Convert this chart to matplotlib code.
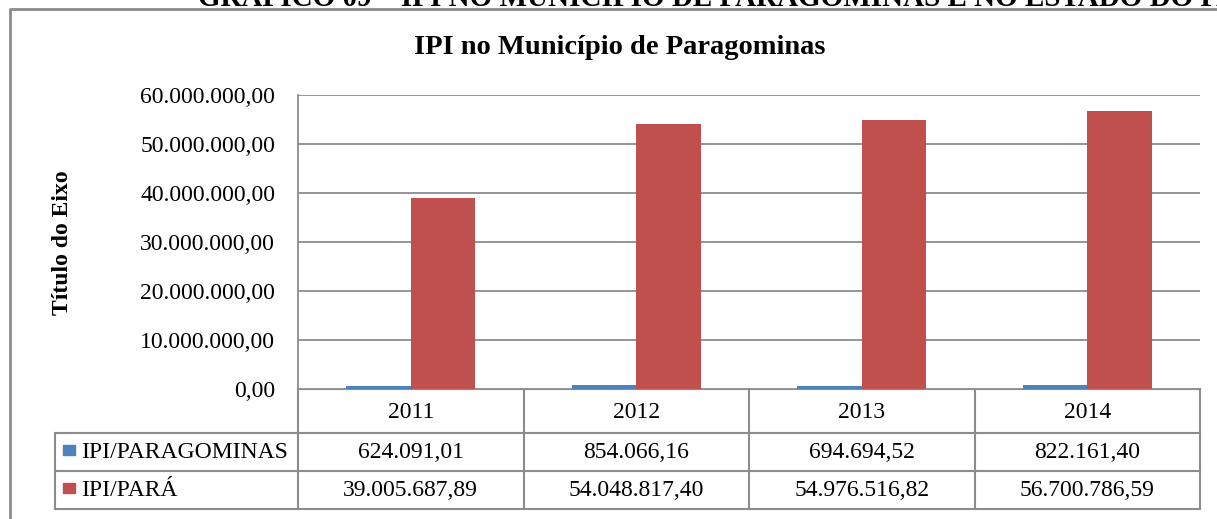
import matplotlib.pyplot as plt
import numpy as np

plt.rcParams['font.family'] = ['Liberation Serif', 'DejaVu Serif']

# data
anos = ['2011', '2012', '2013', '2014']
ipi_paragominas = [624091.01, 854066.16, 694694.52, 822161.40]
ipi_para = [39005687.89, 54048817.40, 54976516.82, 56700786.59]
series_names = ['IPI/PARAGOMINAS', 'IPI/PARÁ']
cores = ['#4F81BD', '#C0504D']


def fmt_br(v):
    s = '{:,.2f}'.format(v)
    return s.replace(',', 'X').replace('.', ',').replace('X', '.')


W, H = 1217, 519
fig = plt.figure(figsize=(W / 100, H / 100), dpi=100)

# overlay in pixel coordinates for frame and table
ov = fig.add_axes([0, 0, 1, 1])
ov.set_xlim(0, W)
ov.set_ylim(H, 0)
ov.axis('off')

grey = '#8c8c8c'
fs = 17
# outer chart frame (partly cut off)
ov.plot([10, 10, W], [H, 9, 9], color=grey, lw=2)
# cut-off figure caption at top
ov.text(198, 6, 'GRÁFICO 09 – IPI NO MUNICÍPIO DE PARAGOMINAS E NO ESTADO DO PARÁ',
        fontsize=21, fontweight='bold', va='baseline', ha='left')
# chart title and axis title
ov.text(620, 48, 'IPI no Município de Paragominas', fontsize=20.5, fontweight='bold',
        ha='center', va='center')
ov.text(62, 243, 'Título do Eixo', fontsize=fs, fontweight='bold', rotation=90,
        ha='center', va='center')

# main axes
x0, x1, y0, y1 = 298, 1200, 95, 389
ax = fig.add_axes([x0 / W, 1 - y1 / H, (x1 - x0) / W, (y1 - y0) / H])
x = np.arange(len(anos))
bw = 0.285
ax.bar(x - bw / 2, ipi_paragominas, bw, color=cores[0], zorder=3)
ax.bar(x + bw / 2, ipi_para, bw, color=cores[1], zorder=3)
ax.set_xlim(-0.5, len(anos) - 0.5)
ax.set_ylim(0, 60000000)
ticks = np.arange(0, 60000001, 10000000)
ax.set_yticks(ticks)
ax.set_yticklabels([fmt_br(t) for t in ticks], fontsize=fs)
ax.set_xticks([])
ax.yaxis.grid(True, color=grey, lw=1.3, zorder=0)
ax.tick_params(axis='y', length=0, pad=16.5)
for s in ['top', 'right', 'bottom']:
    ax.spines[s].set_visible(False)
ax.spines['left'].set_color(grey)
ax.spines['left'].set_linewidth(1.3)

# data table
col_w = (x1 - x0) / len(anos)
rows = [389, 433, 471, 509]
tl = 55
lw = 1.5
ov.plot([x0, x1], [rows[0], rows[0]], color=grey, lw=lw)
for r in rows[1:]:
    ov.plot([tl, x1], [r, r], color=grey, lw=lw)
ov.plot([tl, tl], [rows[1], rows[3]], color=grey, lw=lw)
for i in range(len(anos) + 1):
    ov.plot([x0 + i * col_w] * 2, [rows[0], rows[3]], color=grey, lw=lw)
for i, ano in enumerate(anos):
    cx = x0 + (i + 0.5) * col_w
    ov.text(cx, (rows[0] + rows[1]) / 2 + 1, ano, fontsize=fs, ha='center', va='center')
    ov.text(cx, (rows[1] + rows[2]) / 2 + 1, fmt_br(ipi_paragominas[i]), fontsize=fs,
            ha='center', va='center')
    ov.text(cx, (rows[2] + rows[3]) / 2 + 1, fmt_br(ipi_para[i]), fontsize=fs,
            ha='center', va='center')
for j, (nome, cor) in enumerate(zip(series_names, cores)):
    cy = (rows[j + 1] + rows[j + 2]) / 2
    ov.add_patch(plt.Rectangle((63, cy - 7), 12, 10, color=cor))
    ov.text(81, cy + 1, nome, fontsize=fs, ha='left', va='center')

fig.savefig('out.png', dpi=100)
